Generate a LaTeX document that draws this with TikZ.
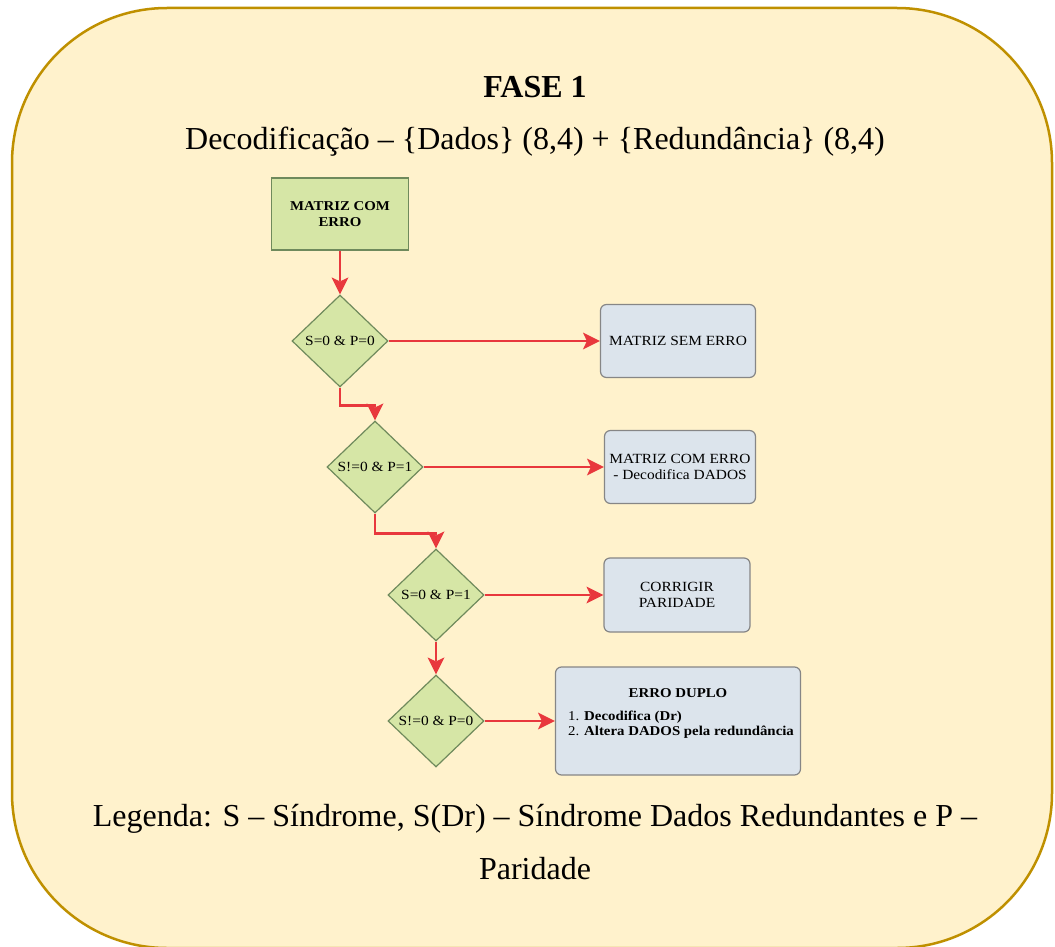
\documentclass[tikz,border=0pt]{standalone}
\usepackage{fontspec}
\setmainfont{Liberation Serif}
\newfontfamily\caixa[FakeStretch=1.1]{Liberation Serif}
\usepackage{tikz}
\usetikzlibrary{shapes,arrows.meta,positioning}

\definecolor{fundo}{HTML}{FFF2CC}
\definecolor{borda}{HTML}{BF9000}
\definecolor{verde}{HTML}{D6E6A6}
\definecolor{verdeborda}{HTML}{6F8A5C}
\definecolor{azul}{HTML}{DCE4EC}
\definecolor{cinza}{HTML}{868686}
\definecolor{vermelho}{HTML}{E8383D}

\begin{document}
\begin{tikzpicture}[x=1pt, y=-1pt, >={Stealth[length=17pt, width=17pt, inset=4pt, line width=0pt, round]}, font=\caixa\fontsize{14}{16}\selectfont]
			\tikzstyle{start}=[rectangle, draw=verdeborda, fill=verde, line width=1.2pt, minimum width=137pt, minimum height=72pt, align=center, font=\caixa\fontsize{13.5}{16}\selectfont\bfseries]
			\tikzstyle{decision}=[diamond, draw=verdeborda, fill=verde, line width=1.2pt, minimum width=96pt, minimum height=92pt, inner sep=0pt, font=\caixa\fontsize{14}{16}\selectfont]
			\tikzstyle{result}=[rectangle, rounded corners=6pt, draw=cinza, fill=azul, line width=1.2pt, align=center]
			\tikzstyle{flow}=[->, color=vermelho, line width=2.8pt]
			\useasboundingbox (0,0) rectangle (1055,947);
			\clip (0,0) rectangle (1055,947);
			\draw[draw=borda, fill=fundo, line width=2.5pt, rounded corners=155pt] (12,8) rectangle (1052,948);
			\node[font=\fontsize{32}{38}\selectfont\bfseries] (TITLE) at (535,87) {FASE 1};
			\node[font=\fontsize{32}{38}\selectfont] (SUBTITLE) at (535,142) {Decodificação – \{Dados\} (8,4) + \{Redundância\} (8,4)};
			\node[start] (MATRIZ) at (340,214) {MATRIZ COM\\ERRO};
			\node[decision] (D1) at (340,341) {S=0 \& P=0};
			\node[decision] (D2) at (375,467) {S!=0 \& P=1};
			\node[decision] (D3) at (436,595) {S=0 \& P=1};
			\node[decision] (D4) at (436,721) {S!=0 \& P=0};
			\node[result, minimum width=155pt, minimum height=73pt] (SEMERRO) at (678,341) {MATRIZ SEM ERRO};
			\node[result, minimum width=151pt, minimum height=73pt] (COMERRO) at (680,467) {MATRIZ COM ERRO\\- Decodifica DADOS};
			\node[result, minimum width=146pt, minimum height=74pt] (PARIDADE) at (677,595) {CORRIGIR\\PARIDADE};
			\node[result, minimum width=245pt, minimum height=108pt, font=\caixa\fontsize{13.5}{15}\selectfont] (DUPLO) at (678,721) {\begin{tabular}{@{}l@{}}\multicolumn{1}{@{}c@{}}{\textbf{ERRO DUPLO}}\\[8pt] \hspace{6pt}1. \textbf{Decodifica (Dr)}\\ \hspace{6pt}2. \textbf{Altera DADOS pela redundância}\\[16pt]\end{tabular}};
			\node[font=\fontsize{32}{53}\selectfont, align=center] (LEGENDA) at (535,842) {Legenda: S – Síndrome, S(Dr) – Síndrome Dados Redundantes e P –\\Paridade};
			\path (MATRIZ) edge[flow] (D1);
			\path (D1) edge[flow] (SEMERRO);
			\path (D2) edge[flow] (COMERRO);
			\path (D3) edge[flow] (PARIDADE);
			\path (D4) edge[flow] (DUPLO);
			\path (D3) edge[flow] (D4);
			\draw[flow] (D1.south) -- ++(0,18) -| (D2.north);
			\draw[flow] (D2.south) -- ++(0,20) -| (D3.north);
		\end{tikzpicture}
\end{document}
